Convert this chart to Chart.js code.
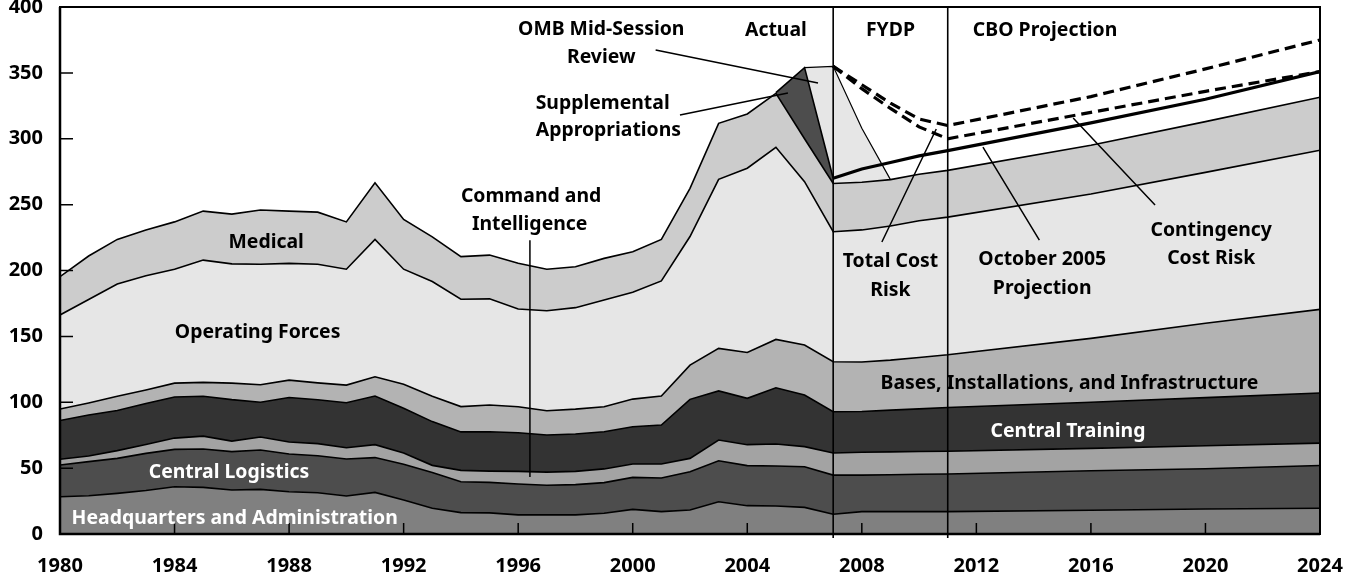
<!DOCTYPE html>
<html>
<head>
<meta charset="utf-8">
<script src="https://cdn.jsdelivr.net/npm/chart.js@4"></script>
<style>
  html, body { margin: 0; padding: 0; background: #fff; }
</style>
</head>
<body>
<canvas id="chart" width="1357" height="579"></canvas>
<script>
// years on the x axis (actual to 2007, FYDP to 2011, CBO projection to 2024)
const years = [1980, 1981, 1982, 1983, 1984, 1985, 1986, 1987, 1988, 1989,
  1990, 1991, 1992, 1993, 1994, 1995, 1996, 1997, 1998, 1999,
  2000, 2001, 2002, 2003, 2004, 2005, 2006, 2007, 2008, 2009,
  2010, 2011, 2016, 2020, 2024];

// stacked layers, bottom to top (billions of dollars)
const headquarters = [28.3, 29.0, 30.8, 33.0, 35.9, 35.4, 33.4, 33.9, 32.1, 31.3,
  28.8, 31.6, 25.8, 19.5, 16.2, 16.0, 14.5, 14.5, 14.5, 15.8,
  18.7, 17.0, 18.2, 24.5, 21.5, 21.2, 20.2, 15.0, 17.0, 17.0,
  17.0, 17.0, 18.0, 19.0, 19.5];
const logistics = [24.1, 25.9, 26.6, 28.2, 28.3, 29.1, 29.1, 29.8, 28.6, 28.1,
  28.1, 26.4, 27.1, 27.1, 23.5, 23.2, 23.5, 22.5, 23.0, 23.2,
  24.3, 25.5, 29.1, 31.1, 30.4, 30.4, 30.8, 29.7, 27.7, 28.0,
  28.3, 28.5, 30.0, 30.5, 32.5];
const commandIntel = [4.3, 4.3, 5.9, 6.8, 8.6, 9.8, 8.0, 9.9, 9.1, 9.2,
  8.6, 9.8, 8.6, 5.5, 8.6, 8.5, 9.5, 10.0, 10.0, 10.4,
  10.1, 10.6, 10.1, 15.7, 15.9, 16.7, 15.3, 16.8, 17.3, 17.3,
  17.3, 17.3, 17.0, 17.5, 17.0];
const training = [29.4, 31.1, 30.5, 31.1, 31.2, 30.2, 31.5, 26.4, 33.8, 33.3,
  34.1, 36.9, 33.9, 33.2, 29.2, 29.9, 29.4, 28.1, 28.4, 28.2,
  28.3, 29.6, 44.8, 37.3, 35.2, 42.7, 39.2, 31.3, 31.0, 31.7,
  32.4, 33.2, 35.0, 36.5, 38.0];
const bases = [8.8, 9.2, 10.7, 10.2, 10.5, 10.6, 12.5, 13.3, 13.2, 12.8,
  13.4, 14.6, 18.3, 19.2, 19.2, 20.3, 19.7, 18.5, 18.9, 19.0,
  21.0, 22.0, 26.0, 32.3, 34.8, 36.7, 37.9, 37.9, 37.5, 38.0,
  39.0, 40.0, 48.5, 56.5, 63.5];
const operating = [71.3, 78.5, 85.3, 86.7, 86.4, 92.8, 90.5, 91.4, 88.6, 90.0,
  88.0, 104.3, 87.3, 87.1, 81.5, 80.6, 74.2, 75.9, 77.0, 81.0,
  81.1, 87.4, 97.6, 128.3, 139.8, 145.8, 124.0, 98.7, 100.3, 101.8,
  103.8, 104.5, 109.5, 114.5, 120.8];
const medical = [29.1, 33.0, 33.8, 34.7, 36.0, 37.2, 37.8, 41.2, 39.7, 39.6,
  35.9, 43.0, 37.8, 33.9, 32.3, 33.2, 34.7, 31.4, 31.1, 31.6,
  30.8, 31.5, 36.6, 42.5, 41.2, 41.0, 32.6, 36.6, 36.2, 35.2,
  35.2, 35.5, 37.0, 38.5, 40.2];

// totals including war funding
const supplementalYears = [2005, 2006, 2007];
const supplementalTotal = [335, 354, 270];
const ombYears = [2006, 2007, 2008, 2009];
const ombTotal = [354, 355, 308, 269];

// projection lines
const projYears = [2007, 2008, 2009, 2010, 2011, 2016, 2020, 2024];
const october2005 = [270, 277, 282, 287, 291, 312, 330, 351];
const contingencyRisk = [355, 338, 323, 309, 300, 320, 336, 351];
const totalCostRisk = [355, 341, 327, 315, 310, 332, 353, 375];

const toPts = (xs, ys) => xs.map((x, i) => ({ x: x, y: ys[i] }));

function layer(label, values, color, fill) {
  return {
    label: label,
    data: toPts(years, values),
    backgroundColor: color,
    borderColor: '#000',
    borderWidth: 1.6,
    pointRadius: 0,
    fill: fill,
    stack: 'main',
    order: 0
  };
}

// text annotations in data units
const notes = [
  { t: 'OMB Mid-Session', x: 1998.9, y: 383, c: '#000' },
  { t: 'Review', x: 1998.9, y: 362, c: '#000' },
  { t: 'Actual', x: 2005.0, y: 382, c: '#000' },
  { t: 'FYDP', x: 2009.0, y: 382, c: '#000' },
  { t: 'CBO Projection', x: 2014.4, y: 382, c: '#000' },
  { t: 'Supplemental', x: 1998.95, y: 327, c: '#000' },
  { t: 'Appropriations', x: 1999.15, y: 306, c: '#000' },
  { t: 'Command and', x: 1996.45, y: 256, c: '#000' },
  { t: 'Intelligence', x: 1996.4, y: 235, c: '#000' },
  { t: 'Medical', x: 1987.2, y: 221, c: '#000' },
  { t: 'Operating Forces', x: 1986.9, y: 153, c: '#000' },
  { t: 'Central Logistics', x: 1985.9, y: 47, c: '#fff' },
  { t: 'Headquarters and Administration', x: 1986.1, y: 12, c: '#fff' },
  { t: 'Bases, Installations, and Infrastructure', x: 2015.25, y: 114.5, c: '#000' },
  { t: 'Central Training', x: 2015.2, y: 77.5, c: '#fff' },
  { t: 'Total Cost', x: 2009.0, y: 206.5, c: '#000' },
  { t: 'Risk', x: 2009.0, y: 185, c: '#000' },
  { t: 'October 2005', x: 2014.3, y: 208, c: '#000' },
  { t: 'Projection', x: 2014.3, y: 186.5, c: '#000' },
  { t: 'Contingency', x: 2020.2, y: 230.5, c: '#000' },
  { t: 'Cost Risk', x: 2020.2, y: 209.5, c: '#000' }
];

// leader lines in data units
const leaders = [
  [2000.8, 367.4, 2006.47, 342.3],
  [2001.65, 318, 2005.42, 334.7],
  [1996.41, 222.9, 1996.41, 43.3],
  [2008.7, 221.6, 2010.6, 307.4],
  [2014.2, 223.1, 2012.23, 293.7],
  [2018.24, 249.7, 2015.38, 315.7]
];

const dividers = [2007, 2011];

const overlay = {
  id: 'overlay',
  afterDatasetsDraw(chart) {
    const { ctx, chartArea: a, scales: { x, y } } = chart;
    ctx.save();
    ctx.strokeStyle = '#000';

    // inner tick marks
    ctx.lineWidth = 1.5;
    ctx.beginPath();
    y.ticks.forEach(t => {
      const py = y.getPixelForValue(t.value);
      ctx.moveTo(a.left, py);
      ctx.lineTo(a.left + 13, py);
    });
    x.ticks.forEach(t => {
      const px = x.getPixelForValue(t.value);
      ctx.moveTo(px, a.bottom);
      ctx.lineTo(px, a.bottom - 11);
    });
    ctx.stroke();

    // period dividers
    ctx.lineWidth = 1.6;
    ctx.beginPath();
    dividers.forEach(d => {
      const px = x.getPixelForValue(d);
      ctx.moveTo(px, a.top);
      ctx.lineTo(px, a.bottom + 4);
    });
    ctx.stroke();

    // leaders
    ctx.lineWidth = 1.5;
    ctx.beginPath();
    leaders.forEach(l => {
      ctx.moveTo(x.getPixelForValue(l[0]), y.getPixelForValue(l[1]));
      ctx.lineTo(x.getPixelForValue(l[2]), y.getPixelForValue(l[3]));
    });
    ctx.stroke();

    // frame
    ctx.lineWidth = 2;
    ctx.strokeRect(a.left, a.top, a.right - a.left, a.bottom - a.top);
    ctx.lineWidth = 2.5;
    ctx.beginPath();
    ctx.moveTo(a.left, a.top);
    ctx.lineTo(a.left, a.bottom);
    ctx.lineTo(a.right, a.bottom);
    ctx.stroke();

    // labels
    ctx.font = 'bold 19.4px "Noto Sans"';
    ctx.textAlign = 'center';
    ctx.textBaseline = 'middle';
    notes.forEach(n => {
      ctx.fillStyle = n.c;
      ctx.fillText(n.t, x.getPixelForValue(n.x), y.getPixelForValue(n.y));
    });
    ctx.restore();
  }
};

new Chart(document.getElementById('chart'), {
  type: 'line',
  data: {
    datasets: [
      layer('Headquarters and Administration', headquarters, '#808080', 'origin'),
      layer('Central Logistics', logistics, '#4d4d4d', '-1'),
      layer('Command and Intelligence', commandIntel, '#a3a3a3', '-1'),
      layer('Central Training', training, '#333333', '-1'),
      layer('Bases, Installations, and Infrastructure', bases, '#b3b3b3', '-1'),
      layer('Operating Forces', operating, '#e6e6e6', '-1'),
      layer('Medical', medical, '#cccccc', '-1'),
      {
        label: 'OMB Mid-Session Review',
        data: toPts(ombYears, ombTotal),
        backgroundColor: '#e6e6e6',
        borderColor: '#000',
        borderWidth: 1.2,
        pointRadius: 0,
        fill: 6,
        stack: 'omb',
        order: 2
      },
      {
        label: 'Supplemental Appropriations',
        data: toPts(supplementalYears, supplementalTotal),
        backgroundColor: '#4d4d4d',
        borderColor: '#000',
        borderWidth: 1.6,
        pointRadius: 0,
        fill: 6,
        stack: 'supp',
        order: 1
      },
      {
        label: 'October 2005 Projection',
        data: toPts(projYears, october2005),
        borderColor: '#000',
        borderWidth: 3.2,
        pointRadius: 0,
        fill: false,
        stack: 'oct',
        order: -1
      },
      {
        label: 'Contingency Cost Risk',
        data: toPts(projYears, contingencyRisk),
        borderColor: '#000',
        borderWidth: 3.2,
        borderDash: [11, 6],
        pointRadius: 0,
        fill: false,
        stack: 'cont',
        order: -1
      },
      {
        label: 'Total Cost Risk',
        data: toPts(projYears, totalCostRisk),
        borderColor: '#000',
        borderWidth: 3.2,
        borderDash: [11, 6],
        pointRadius: 0,
        fill: false,
        stack: 'total',
        order: -1
      }
    ]
  },
  options: {
    responsive: false,
    animation: false,
    devicePixelRatio: 1,
    layout: { padding: { top: 7, right: 37, left: 0, bottom: 0 } },
    plugins: {
      legend: { display: false },
      tooltip: { enabled: false }
    },
    scales: {
      x: {
        type: 'linear',
        min: 1980,
        max: 2024,
        grid: { display: false, drawTicks: false },
        border: { display: false },
        ticks: {
          stepSize: 4,
          padding: 20,
          color: '#000',
          font: { family: 'Noto Sans', size: 20, weight: 'bold' },
          maxRotation: 0,
          callback: v => String(v)
        },
        afterFit: s => { s.height = 45; s.paddingLeft = 0; s.paddingRight = 0; }
      },
      y: {
        stacked: true,
        min: 0,
        max: 400,
        grid: { display: false, drawTicks: false },
        border: { display: false },
        ticks: {
          stepSize: 50,
          padding: 17,
          color: '#000',
          font: { family: 'Noto Sans', size: 20, weight: 'bold' }
        },
        afterFit: s => { s.width = 60; s.paddingTop = 0; s.paddingBottom = 0; }
      }
    }
  },
  plugins: [overlay]
});
</script>
</body>
</html>
